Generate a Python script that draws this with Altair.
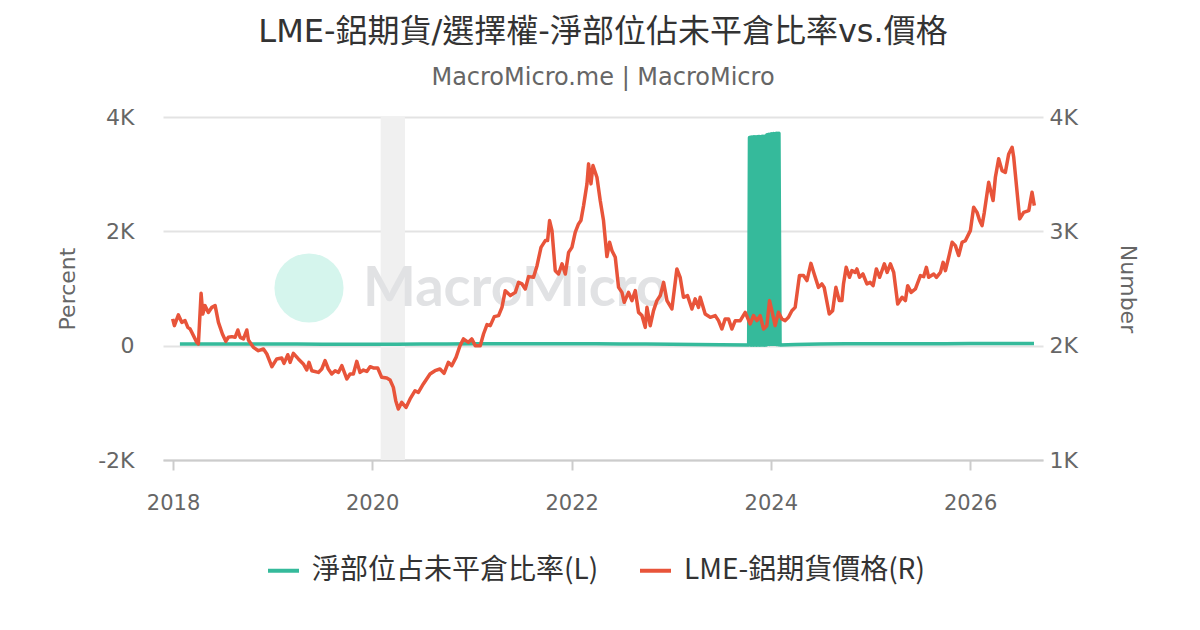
import altair as alt
import pandas as pd

title_text = "LME-鋁期貨/選擇權-淨部位佔未平倉比率vs.價格"
subtitle_text = "MacroMicro.me | MacroMicro"
green_name = "淨部位占未平倉比率(L)"
red_name = "LME-鋁期貨價格(R)"
green_color = "#35ba9b"
red_color = "#e8543a"

# LME aluminium futures price (right axis), time in decimal years
red_years = [
    2017.995, 2018.013, 2018.053, 2018.087, 2018.120, 2018.148, 2018.171, 2018.238, 2018.254, 2018.281,
    2018.298, 2018.321, 2018.354, 2018.389, 2018.422, 2018.455, 2018.495, 2018.529, 2018.555, 2018.589,
    2018.622, 2018.650, 2018.673, 2018.706, 2018.740, 2018.756, 2018.806, 2018.856, 2018.907, 2018.941,
    2018.991, 2019.041, 2019.091, 2019.114, 2019.152, 2019.175, 2019.208, 2019.258, 2019.308, 2019.342,
    2019.365, 2019.393, 2019.459, 2019.493, 2019.526, 2019.559, 2019.593, 2019.627, 2019.660, 2019.694,
    2019.744, 2019.777, 2019.810, 2019.844, 2019.877, 2019.911, 2019.945, 2019.978, 2020.011, 2020.055,
    2020.095, 2020.146, 2020.179, 2020.212, 2020.236, 2020.262, 2020.296, 2020.339, 2020.380, 2020.430,
    2020.463, 2020.513, 2020.580, 2020.630, 2020.680, 2020.721, 2020.764, 2020.798, 2020.841, 2020.881,
    2020.915, 2020.965, 2020.999, 2021.032, 2021.082, 2021.115, 2021.150, 2021.183, 2021.223, 2021.266,
    2021.300, 2021.333, 2021.384, 2021.434, 2021.467, 2021.501, 2021.534, 2021.567, 2021.617, 2021.652,
    2021.692, 2021.735, 2021.758, 2021.778, 2021.802, 2021.835, 2021.868, 2021.903, 2021.936, 2021.969,
    2022.003, 2022.036, 2022.069, 2022.093, 2022.120, 2022.154, 2022.170, 2022.194, 2022.214, 2022.254,
    2022.287, 2022.320, 2022.354, 2022.381, 2022.405, 2022.438, 2022.471, 2022.505, 2022.528, 2022.571,
    2022.605, 2022.639, 2022.672, 2022.706, 2022.739, 2022.756, 2022.789, 2022.822, 2022.856, 2022.890,
    2022.923, 2022.957, 2023.007, 2023.057, 2023.090, 2023.123, 2023.164, 2023.208, 2023.241, 2023.274,
    2023.291, 2023.341, 2023.392, 2023.442, 2023.475, 2023.509, 2023.542, 2023.575, 2023.609, 2023.643,
    2023.693, 2023.743, 2023.793, 2023.826, 2023.860, 2023.893, 2023.927, 2023.960, 2023.987, 2024.011,
    2024.044, 2024.077, 2024.111, 2024.145, 2024.178, 2024.212, 2024.245, 2024.288, 2024.329, 2024.363,
    2024.403, 2024.436, 2024.479, 2024.513, 2024.536, 2024.587, 2024.621, 2024.654, 2024.688, 2024.714,
    2024.730, 2024.757, 2024.790, 2024.814, 2024.847, 2024.865, 2024.891, 2024.925, 2024.965, 2024.998,
    2025.025, 2025.058, 2025.091, 2025.138, 2025.166, 2025.199, 2025.232, 2025.272, 2025.316, 2025.349,
    2025.372, 2025.407, 2025.450, 2025.500, 2025.533, 2025.560, 2025.583, 2025.634, 2025.661, 2025.701,
    2025.728, 2025.751, 2025.784, 2025.818, 2025.851, 2025.884, 2025.918, 2025.952, 2026.002, 2026.035,
    2026.069, 2026.095, 2026.119, 2026.142, 2026.186, 2026.230, 2026.253, 2026.286, 2026.320, 2026.353,
    2026.387, 2026.421, 2026.437, 2026.497, 2026.537, 2026.588, 2026.621, 2026.644,
]
red_values = [
    2234, 2175, 2269, 2204, 2219, 2160, 2146, 2029, 2015, 2458,
    2277, 2350, 2291, 2335, 2350, 2204, 2102, 2038, 2073, 2079,
    2073, 2137, 2073, 2059, 2137, 2050, 1985, 1956, 1971, 1927,
    1816, 1884, 1892, 1845, 1921, 1854, 1933, 1884, 1840, 1787,
    1854, 1781, 1766, 1796, 1869, 1796, 1752, 1781, 1766, 1825,
    1709, 1752, 1752, 1863, 1766, 1787, 1775, 1816, 1805, 1805,
    1723, 1717, 1700, 1635, 1519, 1446, 1504, 1460, 1534, 1606,
    1591, 1665, 1752, 1781, 1796, 1758, 1854, 1825, 1898, 2000,
    2059, 2029, 2059, 2000, 2000, 2102, 2184, 2175, 2254, 2263,
    2335, 2481, 2438, 2466, 2554, 2540, 2496, 2604, 2598, 2700,
    2860, 2919, 2919, 3094, 3006, 2656, 2627, 2715, 2627, 2816,
    2860, 2991, 3065, 3094, 3225, 3415, 3590, 3415, 3575, 3473,
    3269, 3094, 2779, 2904, 2831, 2773, 2510, 2466, 2379, 2466,
    2394, 2481, 2291, 2263, 2160, 2335, 2175, 2306, 2394, 2438,
    2554, 2394, 2321, 2671, 2598, 2423, 2438, 2321, 2409, 2335,
    2423, 2277, 2248, 2263, 2219, 2146, 2234, 2234, 2146, 2219,
    2219, 2291, 2190, 2263, 2219, 2263, 2146, 2175, 2394, 2306,
    2175, 2291, 2234, 2219, 2248, 2306, 2335, 2613, 2613, 2569,
    2720, 2627, 2510, 2540, 2510, 2277, 2306, 2510, 2394, 2394,
    2540, 2685, 2598, 2656, 2641, 2671, 2598, 2627, 2540, 2554,
    2525, 2671, 2598, 2715, 2641, 2715, 2641, 2365, 2423, 2394,
    2525, 2466, 2496, 2613, 2604, 2685, 2598, 2627, 2598, 2641,
    2729, 2656, 2773, 2904, 2875, 2788, 2904, 2919, 3006, 3210,
    3166, 3094, 3050, 3166, 3429, 3269, 3473, 3634, 3531, 3516,
    3677, 3735, 3648, 3109, 3166, 3181, 3341, 3225,
]

# Net position as % of open interest (left axis)
green_dates_before = [
    "2018-01-26", "2018-04-01", "2018-07-01", "2018-10-01", "2019-01-01", "2019-04-01",
    "2019-07-01", "2019-10-01", "2020-01-01", "2020-04-01", "2020-07-01", "2020-10-01",
    "2021-01-01", "2021-04-01", "2021-07-01", "2021-10-01", "2022-01-01", "2022-04-01",
    "2022-07-01", "2022-10-01", "2023-01-01", "2023-04-01", "2023-07-01", "2023-10-12",
]
green_values_before = [
    30, 30, 29, 28, 27, 27, 26, 26, 25, 25, 28, 30,
    32, 33, 34, 34, 33, 32, 30, 28, 25, 20, 15, 12,
]
# daily-like oscillation late 2023 - early 2024 (every 2 days from spike_start)
spike_start = "2023-10-15"
spike_values = [
    3640, 10, 3645, 8, 3650, 12, 3650, 9, 3655, 11, 3655, 10, 3650, 8, 3655, 12,
    3660, 10, 3660, 9, 3655, 11, 3660, 10, 3665, 12, 3660, 9, 3665, 10, 3670, 11,
    3690, 20, 3695, 25, 3700, 22, 3700, 24, 3705, 26, 3700, 25, 3710, 23, 3705, 24,
    3710, 22, 3715, 20, 3710, 15, 3715,
]
green_dates_after = [
    "2024-02-04", "2024-04-01", "2024-07-01", "2024-10-01", "2025-01-01", "2025-04-01",
    "2025-07-01", "2025-10-01", "2026-01-01", "2026-04-01", "2026-07-01", "2026-08-23",
]
green_values_after = [10, 22, 30, 32, 33, 33, 34, 35, 36, 37, 38, 38]

band_start = "2020-02-01"
band_end = "2020-04-30"

x_tick_years = [2018, 2020, 2022, 2024, 2026]
left_ticks = [-2000, 0, 2000, 4000]
right_ticks = [1000, 2000, 3000, 4000]


def year_to_date(y):
    yr = int(y)
    return pd.Timestamp(year=yr, month=1, day=1) + pd.Timedelta(days=(y - yr) * 365.25)


red_df = pd.DataFrame({
    "date": [year_to_date(y).strftime("%Y-%m-%dT%H:%M:%S") for y in red_years],
    "value": red_values,
    "series": red_name,
})

spike_dates = pd.date_range(spike_start, periods=len(spike_values), freq="2D")
green_df = pd.DataFrame({
    "date": [pd.Timestamp(d).strftime("%Y-%m-%dT%H:%M:%S") for d in green_dates_before]
    + [d.strftime("%Y-%m-%dT%H:%M:%S") for d in spike_dates]
    + [pd.Timestamp(d).strftime("%Y-%m-%dT%H:%M:%S") for d in green_dates_after],
    "value": green_values_before + spike_values + green_values_after,
    "series": green_name,
})

band_df = pd.DataFrame({"start": [band_start + "T00:00:00"], "end": [band_end + "T00:00:00"]})
one_df = pd.DataFrame({"k": [1]})

axis_font = "DejaVu Sans"
cjk_font = "DejaVu Sans, Noto Sans CJK TC"

x_scale = alt.Scale(domain=[alt.DateTime(year=2017, month=11, date=25),
                            alt.DateTime(year=2026, month=9, date=25)])
x_axis = alt.Axis(
    values=[alt.DateTime(year=y, month=1, date=1) for y in x_tick_years],
    format="%Y", title=None, grid=False,
    domainColor="#cccccc", domainWidth=2, tickColor="#cccccc", tickWidth=2, tickSize=10,
    labelFont=axis_font, labelFontSize=21, labelColor="#666666", labelPadding=22,
)
x_enc = alt.X("date:T", scale=x_scale, axis=x_axis)

color_enc = alt.Color(
    "series:N",
    scale=alt.Scale(domain=[green_name, red_name], range=[green_color, red_color]),
    legend=alt.Legend(
        title=None, orient="none", legendX=103, legendY=436, direction="horizontal",
        symbolType="stroke", symbolSize=961, symbolStrokeWidth=4,
        labelFont="Noto Sans CJK TC", labelFontSize=28, labelColor="#333333",
        labelLimit=600, columnPadding=33, labelOffset=11,
    ),
)

band = alt.Chart(band_df).mark_rect(color="#f0f0f0").encode(
    x=alt.X("start:T", scale=x_scale, axis=x_axis), x2="end:T"
)

wm_circle = alt.Chart(one_df).mark_point(
    filled=True, shape="circle", size=4780, color="#d5f5ed", opacity=1
).encode(x=alt.value(146), y=alt.value(171))

wm_text = alt.Chart(one_df).mark_text(
    text="MacroMicro", font="Lato", fontSize=56, fontWeight="bold",
    color="#e1e2e4", align="left", baseline="middle"
).encode(x=alt.value(200), y=alt.value(172))

green = alt.Chart(green_df).mark_line(strokeWidth=3.5, strokeJoin="round").encode(
    x=x_enc,
    y=alt.Y("value:Q", scale=alt.Scale(domain=[-2000, 4000], nice=False, zero=False),
            axis=alt.Axis(
                orient="left", values=left_ticks,
                labelExpr="datum.value == 0 ? '0' : (datum.value / 1000) + 'K'",
                title="Percent", grid=True, gridColor="#e3e3e3", gridWidth=2,
                domain=False, ticks=False, labelPadding=29,
                labelFont=axis_font, labelFontSize=22, labelColor="#666666",
                titleFont=axis_font, titleFontSize=22, titleColor="#666666",
                titleFontWeight="normal", titlePadding=18,
            )),
    color=color_enc,
)

red = alt.Chart(red_df).mark_line(strokeWidth=3.5, strokeJoin="round").encode(
    x=x_enc,
    y=alt.Y("value:Q", scale=alt.Scale(domain=[1000, 4000], nice=False, zero=False),
            axis=alt.Axis(
                orient="right", values=right_ticks,
                labelExpr="(datum.value / 1000) + 'K'",
                title="Number", grid=False, domain=False, ticks=False, labelPadding=6,
                labelFont=axis_font, labelFontSize=22, labelColor="#666666",
                titleFont=axis_font, titleFontSize=22, titleColor="#666666",
                titleFontWeight="normal", titlePadding=38,
            )),
    color=color_enc,
)

chart = alt.layer(band, wm_circle, wm_text, green, red).resolve_scale(
    y="independent"
).properties(
    width=880, height=343,
    padding={"left": 155, "top": 109, "right": 149, "bottom": 162},
    autosize=alt.AutoSizeParams(type="none"),
    title=alt.TitleParams(
        text=title_text, subtitle=subtitle_text, anchor="middle",
        font=cjk_font, fontSize=32, fontWeight="normal", color="#333333",
        subtitleFont=axis_font, subtitleFontSize=24, subtitleColor="#666666",
        subtitlePadding=17, offset=15,
    ),
).configure_view(strokeWidth=0)

chart.save("out.html", embed_options={"renderer": "svg", "actions": False})
